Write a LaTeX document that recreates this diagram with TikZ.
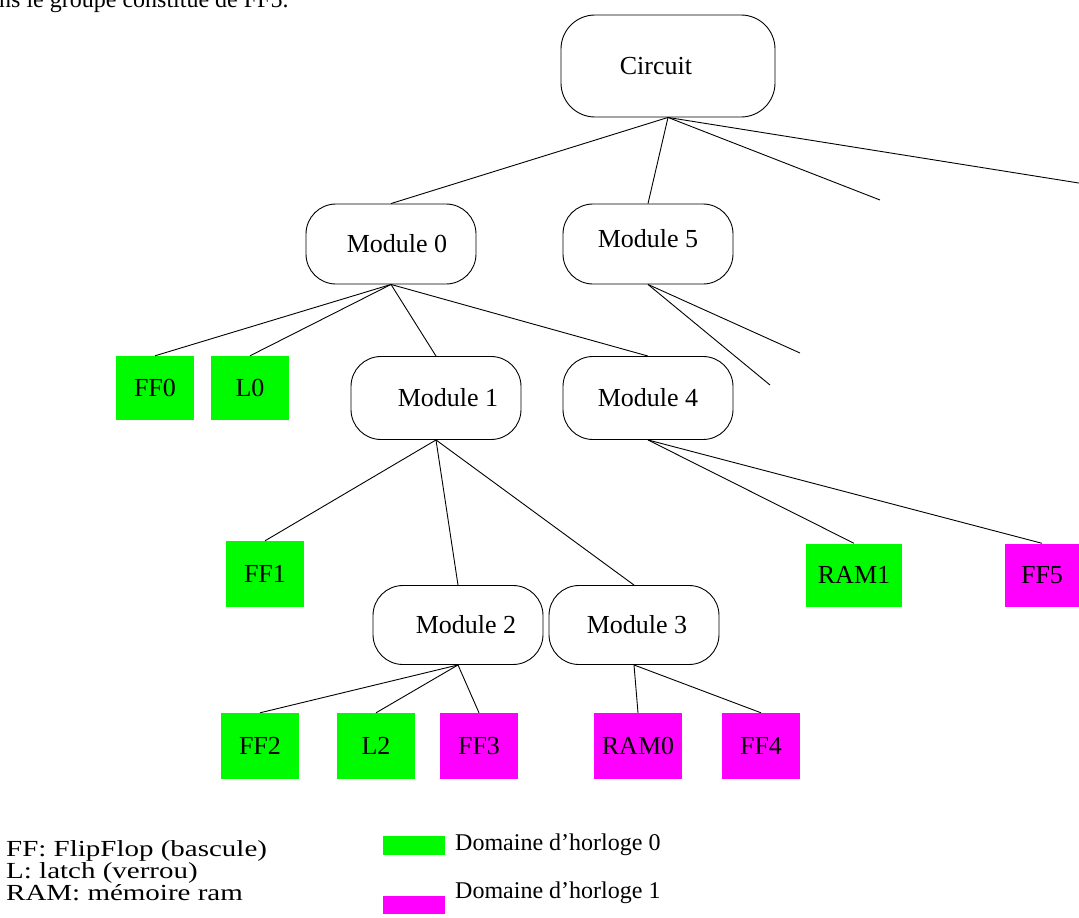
\documentclass[tikz,border=0pt]{standalone}
\usepackage{fontspec}
\setmainfont{Liberation Serif}
\newfontfamily\keyfont{Liberation Serif}[FakeStretch=1.26]
\definecolor{clkgreen}{RGB}{0,250,0}
\definecolor{clkmagenta}{RGB}{255,0,255}
\begin{document}
\begin{tikzpicture}[x=1pt,y=-1pt,
  lbl/.style={font=\fontsize{26}{28}\selectfont, inner sep=0pt},
  keytext/.style={lbl, font=\keyfont\fontsize{23}{22}\selectfont, anchor=base west},
  module/.style={lbl, draw, line width=0.9pt, rounded corners=30pt,
                 minimum width=170pt, minimum height=80pt},
  leaf/.style={lbl, minimum width=78pt, minimum height=64pt},
  dom0/.style={leaf, fill=clkgreen},
  dom1/.style={leaf, fill=clkmagenta},
  edge/.style={line width=0.9pt}]
\clip (0,0) rectangle (1079,918);
\fill[white] (0,0) rectangle (1079,918);

% tail of the preceding sentence, cut by the top edge
\node[lbl, font=\fontsize{24}{26}\selectfont, anchor=base west] (prev) at (-1,7) {ns le groupe constitué de FF5.};

% hierarchy
\node[module, minimum width=214pt, minimum height=102pt, rounded corners=34pt] (circ) at (668,66) {\hspace*{-24pt}Circuit};
\node[module] (m0) at (391,244) {\hspace*{12pt}Module 0};
\node[module] (m5) at (648,244) {\raisebox{12pt}{Module 5}};
\node[module, minimum height=83pt] (m1) at (436,398) {\hspace*{24pt}Module 1};
\node[module, minimum height=83pt] (m4) at (648,398) {Module 4};
\node[module, minimum height=79pt] (m2) at (458,625) {\hspace*{16pt}Module 2};
\node[module, minimum height=79pt] (m3) at (634,625) {\hspace*{6pt}Module 3};

\node[dom0] (ff0) at (155,388) {FF0};
\node[dom0] (l0) at (250,388) {L0};
\node[dom0, minimum height=66pt] (ff1) at (265,574) {FF1};
\node[dom0, minimum width=96pt, minimum height=63pt] (ram1) at (854,575) {RAM1};
\node[dom1, minimum width=74pt, minimum height=63pt] (ff5) at (1042,575) {FF5};
\node[dom0, minimum height=66pt] (ff2) at (260,746) {FF2};
\node[dom0, minimum height=66pt] (l2) at (376,746) {L2};
\node[dom1, minimum height=66pt] (ff3) at (479,746) {FF3};
\node[dom1, minimum width=88pt, minimum height=66pt] (ram0) at (638,746) {RAM0};
\node[dom1, minimum height=66pt] (ff4) at (761,746) {FF4};

% branches leading out of view
\coordinate (cx1) at (880,200);
\coordinate (cx2) at (1085,184);
\coordinate (m5x1) at (800,353);
\coordinate (m5x2) at (770,385);

\draw[edge] (circ.south) -- (m0.north);
\draw[edge] (circ.south) -- (m5.north);
\draw[edge] (circ.south) -- (cx1);
\draw[edge] (circ.south) -- (cx2);

\draw[edge] (m0.south) -- (ff0.north);
\draw[edge] (m0.south) -- (l0.north);
\draw[edge] (m0.south) -- (m1.north);
\draw[edge] (m0.south) -- (m4.north);

\draw[edge] (m5.south) -- (m5x1);
\draw[edge] (m5.south) -- (m5x2);

\draw[edge] (m1.south) -- (ff1.north);
\draw[edge] (m1.south) -- (m2.north);
\draw[edge] (m1.south) -- (m3.north);

\draw[edge] (m4.south) -- (ram1.north);
\draw[edge] (m4.south) -- (ff5.north);

\draw[edge] (m2.south) -- (ff2.north);
\draw[edge] (m2.south) -- (l2.north);
\draw[edge] (m2.south) -- (ff3.north);

\draw[edge] (m3.south) -- (ram0.north);
\draw[edge] (m3.south) -- (ff4.north);

% legend
\node[keytext] (key1) at (6,856) {FF: FlipFlop (bascule)};
\node[keytext] (key2) at (6,878) {L: latch (verrou)};
\node[keytext] (key3) at (6,900) {RAM: mémoire ram};
\node[fill=clkgreen, minimum width=62pt, minimum height=19pt, inner sep=0pt] (sw0) at (414,845) {};
\node[fill=clkmagenta, minimum width=62pt, minimum height=18pt, inner sep=0pt] (sw1) at (414,905) {};
\node[lbl, anchor=west, font=\fontsize{24}{26}\selectfont] (t0) at (455,845) {Domaine d’horloge 0};
\node[lbl, anchor=west, font=\fontsize{24}{26}\selectfont] (t1) at (455,893) {Domaine d’horloge 1};
\end{tikzpicture}
\end{document}
